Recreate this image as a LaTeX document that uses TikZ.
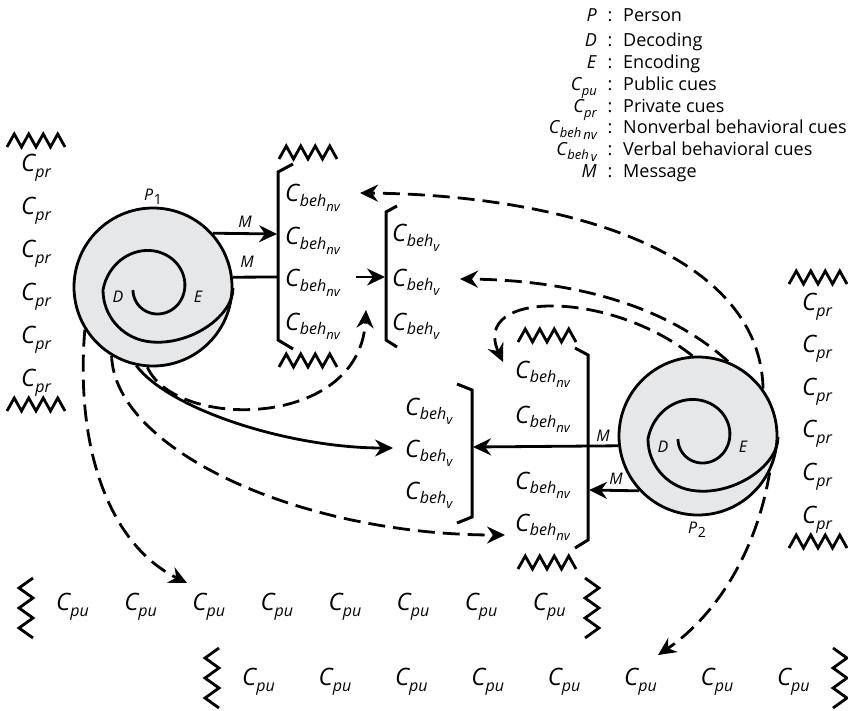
\documentclass[tikz,border=0pt]{standalone}
\usepackage{fontspec}
\setmainfont{Open Sans}
\usetikzlibrary{arrows.meta}
\definecolor{diskgray}{RGB}{230,231,233}
% big cues
\newcommand{\Cb}[1]{\textit{C}\kern-1pt\raisebox{-6pt}{\fontsize{16}{16}\selectfont\itshape #1}}
\newcommand{\Cbb}[1]{\textit{C}\kern-0.5pt\raisebox{-4.5pt}{\fontsize{16}{16}\selectfont\itshape beh\raisebox{-5pt}{\fontsize{13}{13}\selectfont #1}}}
% legend cues
\newcommand{\Cs}[1]{\textit{C}\kern-0.5pt\raisebox{-5pt}{\fontsize{13}{13}\selectfont\itshape #1}}
\newcommand{\Css}[1]{\textit{C}\kern-0.5pt\raisebox{-3.5pt}{\fontsize{13}{13}\selectfont\itshape beh\kern2pt\raisebox{-2.5pt}{#1}}}
\begin{document}
\begin{tikzpicture}[x=1pt,y=-1pt,
  cue/.style={font=\fontsize{24}{28}\selectfont, inner sep=0pt, anchor=base west},
  lab/.style={font=\fontsize{16}{19}\selectfont\itshape, inner sep=0pt},
  legd/.style={font=\fontsize{18}{21}\selectfont, inner sep=0pt, anchor=base west},
  legk/.style={font=\fontsize{18}{21}\selectfont, inner sep=0pt, anchor=base east},
  legc/.style={font=\fontsize{18}{21}\selectfont, inner sep=0pt, anchor=base},
  brk/.style={line width=3pt, line join=miter},
  zz/.style={line width=2.8pt, line join=miter, miter limit=10},
  arr/.style={line width=2.8pt, -{Stealth[length=18pt,width=17pt,inset=6pt]}},
  darr/.style={arr, dash pattern=on 17pt off 8pt},
  plain/.style={line width=2.8pt},
  disk/.style={circle, minimum size=158pt, inner sep=0pt, fill=diskgray, draw, line width=2.8pt},
  spir/.style={line width=2.8pt},
  spiral/.pic={\draw[spir] plot[domain=0:360, samples=100, smooth] ({(22+30*(\x/360)^2)*cos(180-\x)}, {(22+30*(\x/360)^2)*sin(180-\x)})
      arc[start angle=180, end angle=100, radius=52] .. controls +(40,7) and (78,28) .. (78,-2);},
  zigh/.pic={\draw[zz] (0,0) -- (7.25,-13) -- (14.5,0) -- (21.75,-13) -- (29,0) -- (36.25,-13) -- (43.5,0) -- (50.75,-13) -- (58,0);},
  zigvl/.pic={\draw[zz] (14,0) -- (0,10) -- (14,20) -- (0,30) -- (14,40) -- (0,50) -- (14,60);},
  zigvr/.pic={\draw[zz] (0,0) -- (14,10) -- (0,20) -- (14,30) -- (0,40) -- (14,50) -- (0,60);}
]
\useasboundingbox (0,0) rectangle (848,711);

% ---------------- legend ----------------
\foreach \k/\d/\y [count=\n] in {{\textit{P}}/Person/22, {\textit{D}}/Decoding/47, {\textit{E}}/Encoding/69, {\Cs{pu}}/Public cues/91, {\Cs{pr}}/Private cues/113, {\Css{nv}}/Nonverbal behavioral cues/134, {\Css{v}}/Verbal behavioral cues/156, {\textit{M}}/Message/178}{
  \node[legk] (lk\n) at (597,\y) {\k};
  \node[legc] (lc\n) at (610,\y) {:};
  \node[legd] (ld\n) at (623,\y) {\d};
}

% ---------------- persons ----------------
\node[disk] (P1) at (153,287) {};
\pic at (155,290) {spiral};
\node[lab] (D1) at (118,297) {D};
\node[lab] (E1) at (198,297) {E};
\node[lab] (P1lab) at (153,197) {P\kern0.5pt\raisebox{-4pt}{\upshape\fontsize{14}{14}\selectfont 1}};

\node[disk] (P2) at (698,436) {};
\pic at (700,439) {spiral};
\node[lab] (D2) at (663,447) {D};
\node[lab] (E2) at (743,447) {E};
\node[lab] (P2lab) at (697,530) {P\kern0.5pt\raisebox{-4pt}{\upshape\fontsize{14}{14}\selectfont 2}};

% ---------------- private cues columns ----------------
\pic at (7,147) {zigh};
\pic at (7,411) {zigh};
\foreach \i in {0,...,5} \node[cue] (lpr\i) at (21,{172+42.8*\i}) {\Cb{pr}};
\pic at (789,284) {zigh};
\pic at (789,548) {zigh};
\foreach \i in {0,...,5} \node[cue] (rpr\i) at (802,{310+42.6*\i}) {\Cb{pr}};

% ---------------- public cues rows ----------------
\pic at (19,578) {zigvl};
\pic at (585,578) {zigvr};
\foreach \i in {0,...,7} \node[cue] (tpu\i) at ({56+68.1*\i},610) {\Cb{pu}};
\pic at (205,648) {zigvl};
\pic at (833,648) {zigvr};
\foreach \i in {0,...,7} \node[cue] (bpu\i) at ({242+76.4*\i},685) {\Cb{pu}};

% ---------------- brackets ----------------
\pic at (279,159) {zigh};
\pic at (279,367) {zigh};
\draw[brk] (293,164) -- (278,172) -- (278,340) -- (293,349);
\foreach \y [count=\n] in {202,245,287,330} \node[cue] (bn\n) at (285,\y) {\Cbb{nv}};

\draw[brk] (397,206) -- (386,212) -- (386,340) -- (397,347);
\foreach \y [count=\n] in {242,286,330} \node[cue] (bv\n) at (392,\y) {\Cbb{v}};

\pic at (518,342) {zigh};
\pic at (518,569) {zigh};
\draw[brk] (575,348) -- (588,355) -- (588,540) -- (575,548);
\foreach \y [count=\n] in {378,423,489,531} \node[cue] (cn\n) at (515,\y) {\Cbb{nv}};

\draw[brk] (457,384) -- (472,390) -- (472,517) -- (457,523);
\foreach \y [count=\n] in {415,457,499} \node[cue] (cv\n) at (405,\y) {\Cbb{v}};

% ---------------- connector end points ----------------
\coordinate (b1top) at (277,234);
\coordinate (b1low) at (278,277);
\coordinate (b2in) at (385,277);
\coordinate (b2src) at (356,277);
\coordinate (b4in) at (473,447);
\coordinate (b3in) at (589,490);
\coordinate (tipS) at (393,448);
\coordinate (tipA) at (366,310);
\coordinate (tipB) at (505,535);
\coordinate (tipC) at (187,583);
\coordinate (tipD) at (503,362);
\coordinate (tipE) at (460,279);
\coordinate (tipF) at (360,193);
\coordinate (tipG) at (658,655);

% ---------------- messages ----------------
\draw[arr] (P1.42) -- (b1top);
\draw[plain] (P1.7) -- (b1low);
\node[lab] (M1a) at (245,222) {M};
\node[lab] (M1b) at (247,262) {M};
\draw[arr] (b2src) -- (b2in);

\draw[arr] (P2.187) -- (b4in);
\draw[arr] (P2.223) -- (b3in);
\node[lab] (M2a) at (603,436) {M};
\node[lab] (M2b) at (616,479) {M};

% ---------------- curved connectors from P1 ----------------
\draw[arr] (P1.258) .. controls (170,410) and (290,448) .. (tipS);
\draw[darr] (P1.266) .. controls (175,430) and (360,430) .. (tipA);
\draw[darr] (P1.239) .. controls (115,450) and (300,535) .. (tipB);
\draw[darr] (P1.212) .. controls (75,450) and (110,545) .. (tipC);

% ---------------- curved connectors from P2 ----------------
\draw[darr] (P2.94) .. controls (610,290) and (470,290) .. (tipD);
\draw[darr] (P2.68) .. controls (660,300) and (560,280) .. (tipE);
\draw[darr] (P2.36) .. controls (760,250) and (560,195) .. (tipF);
\draw[darr] (P2.333) .. controls (755,560) and (710,620) .. (tipG);
\end{tikzpicture}
\end{document}
